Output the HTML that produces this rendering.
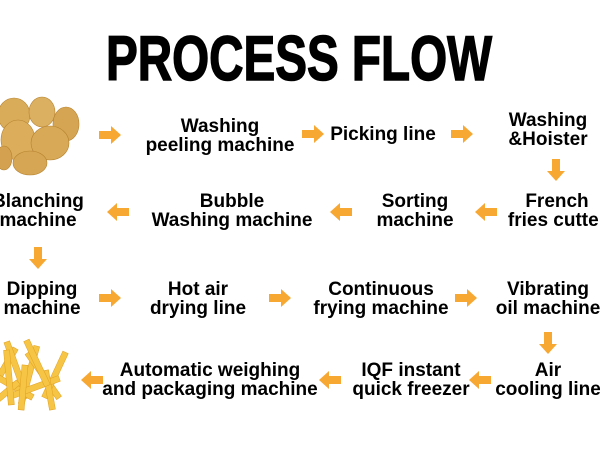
<!DOCTYPE html>
<html><head><meta charset="utf-8"><style>
html,body{margin:0;padding:0;background:#fff;}
svg{display:block}
text{font-family:"Liberation Sans",sans-serif;font-weight:bold;fill:#000;text-anchor:middle;font-size:19px}
</style></head><body>
<svg width="600" height="450" viewBox="0 0 600 450" xmlns="http://www.w3.org/2000/svg">
<defs>
<g id="ar"><path d="M-11,-4 H1 V-9 L11,0 L1,9 V4 H-11 Z" fill="#f7a833"/></g>
</defs>
<text x="299" y="80" style="font-size:63px;font-weight:900;stroke:#000;stroke-width:1.5" textLength="386" lengthAdjust="spacingAndGlyphs">PROCESS FLOW</text>

<!-- potatoes -->
<g stroke="#b5822f" stroke-width="0.6">
<ellipse cx="14" cy="115" rx="16" ry="17" fill="#d9ac5a"/>
<ellipse cx="42" cy="112" rx="13" ry="15" fill="#dcb061"/>
<ellipse cx="66" cy="124" rx="13" ry="17" fill="#d6a553"/>
<ellipse cx="18" cy="140" rx="17" ry="20" fill="#dcae5c"/>
<ellipse cx="50" cy="143" rx="19" ry="17" fill="#d8a957"/>
<ellipse cx="30" cy="163" rx="17" ry="12" fill="#d6a654"/>
<ellipse cx="4" cy="158" rx="8" ry="12" fill="#d3a14f"/>
</g>

<!-- fries -->
<g stroke="#e0a020" stroke-width="0.5" fill="#f6c545">
<rect x="0" y="345" width="6" height="50" transform="rotate(30 3 370)"/>
<rect x="14" y="340" width="6" height="60" transform="rotate(-20 17 370)"/>
<rect x="26" y="345" width="6" height="60" transform="rotate(15 29 375)"/>
<rect x="40" y="348" width="6" height="55" transform="rotate(-35 43 375)"/>
<rect x="52" y="350" width="6" height="50" transform="rotate(25 55 375)"/>
<rect x="8" y="360" width="6" height="50" transform="rotate(-60 11 385)"/>
<rect x="30" y="360" width="6" height="55" transform="rotate(70 33 388)"/>
<rect x="20" y="365" width="6" height="45" transform="rotate(5 23 388)"/>
<rect x="46" y="370" width="6" height="40" transform="rotate(-10 49 390)"/>
<rect x="0" y="375" width="6" height="40" transform="rotate(50 3 395)"/>
<rect x="6" y="350" width="6" height="55" transform="rotate(-5 9 378)"/>
<rect x="34" y="338" width="6" height="50" transform="rotate(-25 37 363)"/>
</g>

<use href="#ar" x="110" y="135"/>
<use href="#ar" x="313" y="134"/>
<use href="#ar" x="462" y="134"/>
<use href="#ar" transform="translate(556,170) rotate(90)"/>
<use href="#ar" transform="translate(486,212) rotate(180)"/>
<use href="#ar" transform="translate(341,212) rotate(180)"/>
<use href="#ar" transform="translate(118,212) rotate(180)"/>
<use href="#ar" transform="translate(38,258) rotate(90)"/>
<use href="#ar" x="110" y="298"/>
<use href="#ar" x="280" y="298"/>
<use href="#ar" x="466" y="298"/>
<use href="#ar" transform="translate(548,343) rotate(90)"/>
<use href="#ar" transform="translate(480,380) rotate(180)"/>
<use href="#ar" transform="translate(330,380) rotate(180)"/>
<use href="#ar" transform="translate(92,380) rotate(180)"/>

<text x="220" y="132">Washing</text>
<text x="220" y="151">peeling machine</text>
<text x="383" y="140">Picking line</text>
<text x="548" y="126">Washing</text>
<text x="548" y="145">&amp;Hoister</text>

<text x="557" y="207">French</text>
<text x="557" y="226">fries cutter</text>
<text x="415" y="207">Sorting</text>
<text x="415" y="226">machine</text>
<text x="232" y="207">Bubble</text>
<text x="232" y="226">Washing machine</text>
<text x="38" y="207">Blanching</text>
<text x="38" y="226">machine</text>

<text x="42" y="295">Dipping</text>
<text x="42" y="314">machine</text>
<text x="198" y="295">Hot air</text>
<text x="198" y="314">drying line</text>
<text x="381" y="295">Continuous</text>
<text x="381" y="314">frying machine</text>
<text x="548" y="295">Vibrating</text>
<text x="548" y="314">oil machine</text>

<text x="548" y="376">Air</text>
<text x="548" y="395">cooling line</text>
<text x="411" y="376">IQF instant</text>
<text x="411" y="395">quick freezer</text>
<text x="210" y="376">Automatic weighing</text>
<text x="210" y="395">and packaging machine</text>
</svg>
</body></html>
